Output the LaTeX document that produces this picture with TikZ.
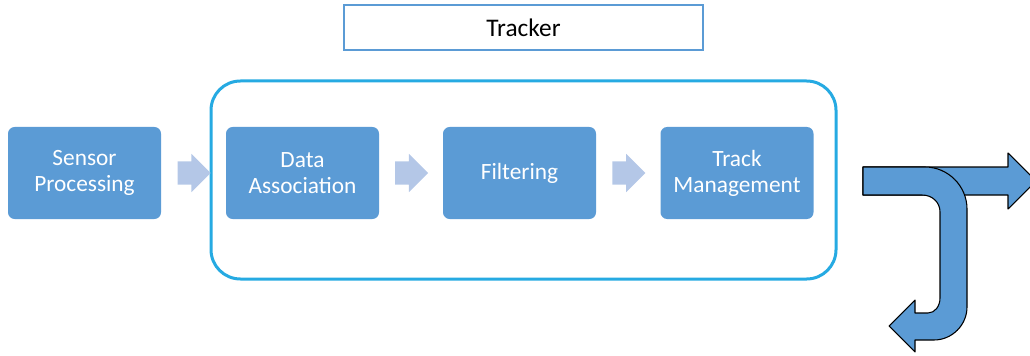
\documentclass[tikz,border=0pt]{standalone}
\usepackage{fontspec}
\setmainfont{Carlito}
\usetikzlibrary{shapes.arrows,calc}
\definecolor{boxblue}{RGB}{91,155,213}
\definecolor{paleblue}{RGB}{180,199,231}
\definecolor{framecyan}{RGB}{38,170,226}

\begin{document}
\begin{tikzpicture}[x=0.75pt,y=-0.75pt,
  stage/.style={fill=boxblue,rounded corners=5pt,minimum width=114.75pt,minimum height=69pt,
    align=center,text=white,font=\fontsize{17.5}{19.5}\selectfont},
  pointer/.style={fill=paleblue,shape=single arrow,single arrow head extend=5.6pt,
    minimum height=24.75pt,inner xsep=0pt,inner ysep=8.6pt,xshift=-4pt},
  trackframe/.style={draw=framecyan,line width=2.25pt,rounded corners=22pt,
    minimum width=468.75pt,minimum height=148.5pt},
  titlebox/.style={draw=boxblue,line width=1.5pt,minimum width=269pt,minimum height=33.75pt,
    font=\fontsize{19}{21}\selectfont},
  bigarrow/.style={fill=boxblue,draw=black,line width=0.8pt,line join=round}]
\useasboundingbox (0,0) rectangle (1030,356);

\node[trackframe] (frame) at (523.5,180) {};
\node[titlebox] (title) at (523.5,27.5) {Tracker};

\node[stage] (sensor) at (84.5,173) {Sensor\\Processing};
\node[stage] (assoc) at (302.5,173) {Data\\Association};
\node[stage] (filter) at (519.5,173) {Filtering};
\node[stage] (manage) at (737,173) {Track\\Management};

\node[pointer] (p1) at ($(sensor.east)!0.5!(assoc.west)$) {};
\node[pointer] (p2) at ($(assoc.east)!0.5!(filter.west)$) {};
\node[pointer] (p3) at ($(filter.east)!0.5!(manage.west)$) {};

\draw[bigarrow] (863,167) -- (1008,167) -- (1008,153) -- (1036,181) -- (1008,209)
  -- (1008,195) -- (863,195) -- cycle;
\draw[bigarrow] (863,167) -- (925,167) .. controls (948,167) and (967,186) .. (967,209)
  -- (967,307) .. controls (967,325) and (952,340) .. (934,340) -- (915,340)
  -- (915,352) -- (889,326) -- (915,300) -- (915,313) -- (928,313)
  .. controls (935,313) and (940,306) .. (940,298) -- (940,212)
  .. controls (940,202) and (932,195) .. (922,195) -- (863,195) -- cycle;
\end{tikzpicture}
\end{document}
